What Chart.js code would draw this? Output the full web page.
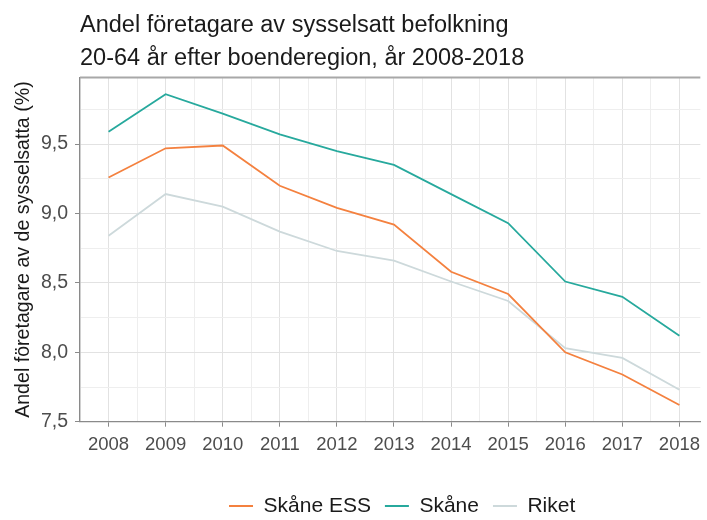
<!DOCTYPE html>
<html>
<head>
<meta charset="utf-8">
<script src="https://cdn.jsdelivr.net/npm/chart.js@4"></script>
<style>
  html, body { margin: 0; padding: 0; background: #fff; }
  #wrap { width: 707px; height: 520px; }
</style>
</head>
<body>
<div id="wrap"><canvas id="chart" width="707" height="520"></canvas></div>
<script>
// ---- data -------------------------------------------------------------------
const years      = [2008, 2009, 2010, 2011, 2012, 2013, 2014, 2015, 2016, 2017, 2018];
const skaneEss   = [9.26, 9.47, 9.49, 9.20, 9.04, 8.92, 8.58, 8.42, 8.00, 7.84, 7.62];
const skane      = [9.59, 9.86, 9.72, 9.57, 9.45, 9.35, 9.14, 8.93, 8.51, 8.40, 8.12];
const riket      = [8.84, 9.14, 9.05, 8.87, 8.73, 8.66, 8.51, 8.37, 8.03, 7.96, 7.73];
const seriesNames = ['Skåne ESS', 'Skåne', 'Riket'];

const yTickValues = [7.5, 8.0, 8.5, 9.0, 9.5];
const yTickLabels = ['7,5', '8,0', '8,5', '9,0', '9,5'];

const titleLines = ['Andel företagare av sysselsatt befolkning',
                    '20-64 år efter boenderegion, år 2008-2018'];
const yTitle = 'Andel företagare av de sysselsatta (%)';

// ---- styling ----------------------------------------------------------------
const FONT   = '"Liberation Sans", Arial, sans-serif';
const COLORS = ['#F4813F', '#27A99D', '#CDD9DB'];
const AXIS   = '#8a8a8a';
const GRID_MAJOR = '#e2e2e2';
const GRID_MINOR = '#eeeeee';
const LEGEND_SHIFT = 12;   // ggplot centres the legend on the (wider, cropped) panel

const isMajorX = v => Number.isInteger(v);
const isMajorY = v => yTickValues.some(t => Math.abs(t - v) < 1e-6);

// grid positions: majors plus the half-step minors in between
const xGrid = years.flatMap(y => [y - 0.5, y]);
const yGrid = yTickValues.flatMap(v => [v, v + 0.25]);

// title + top panel border (left aligned to the panel), legend nudge
const panelDeco = {
  id: 'panelDeco',
  afterLayout(chart) {
    chart.legend.left += LEGEND_SHIFT;
    chart.legend.right += LEGEND_SHIFT;
  },
  beforeDatasetsDraw(chart) {
    const {ctx, chartArea} = chart;
    ctx.save();
    ctx.strokeStyle = '#a8a8a8';
    ctx.lineWidth = 2;
    ctx.beginPath();
    ctx.moveTo(chartArea.left, chartArea.top);
    ctx.lineTo(chartArea.right, chartArea.top);
    ctx.stroke();
    ctx.restore();
  },
  afterDraw(chart) {
    const {ctx, chartArea} = chart;
    ctx.save();
    ctx.fillStyle = '#1a1a1a';
    ctx.font = '23.5px ' + FONT;
    ctx.textAlign = 'left';
    ctx.textBaseline = 'alphabetic';
    ctx.fillText(titleLines[0], chartArea.left, 32);
    ctx.fillText(titleLines[1], chartArea.left, 65);
    ctx.restore();
  }
};

const series = [skaneEss, skane, riket];

new Chart(document.getElementById('chart').getContext('2d'), {
  type: 'line',
  data: {
    datasets: series.map((vals, i) => ({
      label: seriesNames[i],
      data: years.map((yr, j) => ({ x: yr, y: vals[j] })),
      borderColor: COLORS[i],
      backgroundColor: COLORS[i],
      borderWidth: 1.8,
      pointRadius: 0,
      tension: 0,
    })),
  },
  options: {
    responsive: false,
    animation: false,
    devicePixelRatio: 1,
    layout: { padding: { top: 77.5, left: 0, right: 0, bottom: -6.5 } },
    plugins: {
      title: { display: false },
      tooltip: { enabled: false },
      legend: {
        position: 'bottom',
        fullSize: false,
        labels: {
          usePointStyle: true,
          pointStyle: 'line',
          pointStyleWidth: 24,
          padding: 14,
          color: '#1a1a1a',
          font: { family: FONT, size: 21 },
        },
      },
    },
    scales: {
      x: {
        type: 'linear',
        min: 2007.5,
        max: 2018.366,
        afterBuildTicks: s => { s.ticks = xGrid.map(v => ({ value: v })); },
        afterFit: s => { s.height = 59.8; },
        border: { color: AXIS, width: 1.3 },
        grid: {
          color: c => (c.tick && isMajorX(c.tick.value)) ? GRID_MAJOR : GRID_MINOR,
          tickColor: c => (c.tick && isMajorX(c.tick.value)) ? AXIS : 'rgba(0,0,0,0)',
          tickLength: 5,
          lineWidth: 1,
        },
        ticks: {
          autoSkip: false,
          maxRotation: 0,
          padding: 7,
          color: '#4d4d4d',
          font: { family: FONT, size: 18.5 },
          callback: v => isMajorX(v) ? String(v) : '',
        },
      },
      y: {
        min: 7.5,
        max: 9.98,
        afterBuildTicks: s => { s.ticks = yGrid.map(v => ({ value: v })); },
        afterFit: s => { s.width = 80; },
        border: { color: AXIS, width: 1.3 },
        grid: {
          color: c => (c.tick && isMajorY(c.tick.value)) ? GRID_MAJOR : GRID_MINOR,
          tickColor: c => (c.tick && isMajorY(c.tick.value)) ? AXIS : 'rgba(0,0,0,0)',
          tickLength: 5,
          lineWidth: 1,
        },
        ticks: {
          autoSkip: false,
          padding: 7,
          color: '#4d4d4d',
          font: { family: FONT, size: 19.5 },
          callback: v => {
            const k = yTickValues.findIndex(t => Math.abs(t - v) < 1e-6);
            return k >= 0 ? yTickLabels[k] : '';
          },
        },
        title: {
          display: true,
          text: yTitle,
          color: '#1a1a1a',
          font: { family: FONT, size: 19.6 },
          padding: { top: 12.2, bottom: 0 },
        },
      },
    },
  },
  plugins: [panelDeco],
});
</script>
</body>
</html>
